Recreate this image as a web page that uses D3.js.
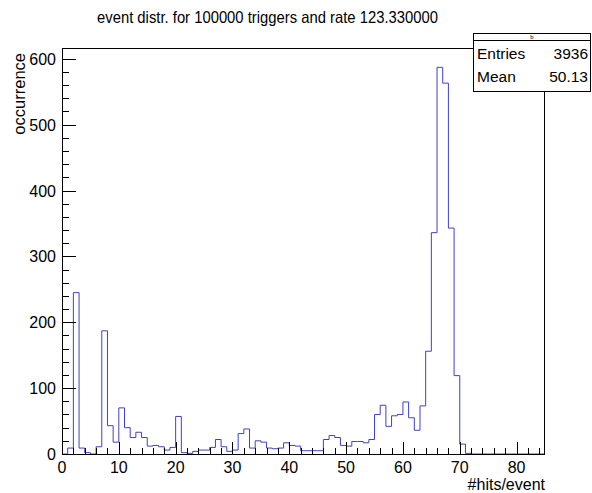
<!DOCTYPE html>
<html><head><meta charset="utf-8">
<script src="https://cdn.jsdelivr.net/npm/d3@7"></script>
<style>body{margin:0;background:#fff}svg{display:block;font-family:"Liberation Sans",Arial,sans-serif}</style>
</head><body>
<svg id="c" width="592" height="493"></svg>
<script>
const binStart = 0, binWidth = 1, nBins = 85;
const counts = [0,9,245,9,2,0,11,187,43,18,
70,40,25,33,25,12,13,11,6,10,
57,2,1,4,6,6,10,22,11,4,
6,31,38,9,20,18,9,8,9,17,
13,12,5,5,5,5,22,28,25,13,
12,19,19,17,22,60,74,42,58,60,
79,55,36,73,156,336,587,563,343,119,
15,1,0,0,0,0,0,0,0,0,
0,0,0,0,0];
const xTickValues = [0,10,20,30,40,50,60,70,80];
const yTickValues = [0,100,200,300,400,500,600];
const titleText = "event distr. for 100000 triggers and rate 123.330000";
const statNames = ["Entries","Mean"];
const statValues = ["3936","50.13"];

const svg = d3.select("#c");
const L = 62, R = 545, T = 48, B = 454;
const x = d3.scaleLinear().domain([binStart, binStart + nBins*binWidth]).range([L, R]);
const yMax = d3.max(counts) * 1.05;
const y = d3.scaleLinear().domain([0, yMax]).range([B, T]);

// histogram
let pts = [[x(binStart), y(0)]];
counts.forEach((v,i)=>{
  const x0 = binStart + i*binWidth;
  pts.push([x(x0), y(v)]);
  pts.push([x(x0+binWidth), y(v)]);
});
pts.push([x(binStart+nBins*binWidth), y(0)]);
svg.append("clipPath").attr("id","clip").append("rect").attr("x",L).attr("y",T).attr("width",R-L).attr("height",B-T);
svg.append("path").attr("d", d3.line()(pts)).attr("fill","none").attr("stroke","#4040c4").attr("stroke-width",1).attr("clip-path","url(#clip)");

// frame
svg.append("rect").attr("x",L+0.5).attr("y",T+0.5).attr("width",R-L-1).attr("height",B-T).attr("fill","none").attr("stroke","#000").attr("stroke-width",1);

// x ticks (inside, upward)
const xMinor = d3.range(0, 85.001, 2);
const gx = svg.append("g");
xMinor.forEach(v=>{
  const major = v % 10 === 0;
  gx.append("line").attr("x1",Math.round(x(v))+0.5).attr("x2",Math.round(x(v))+0.5)
    .attr("y1",B).attr("y2",B-(major?12:6)).attr("stroke","#000").attr("stroke-width",1);
});
xTickValues.forEach(v=>{
  gx.append("text").attr("x",x(v)).attr("y",473).attr("text-anchor","middle").attr("font-size",16).text(v);
});
// y ticks (inside, rightward)
const gy = svg.append("g");
d3.range(0, yMax, 20).forEach(v=>{
  const major = v % 100 === 0;
  gy.append("line").attr("x1",L).attr("x2",L+(major?14:7))
    .attr("y1",Math.round(y(v))+0.5).attr("y2",Math.round(y(v))+0.5).attr("stroke","#000").attr("stroke-width",1);
});
yTickValues.forEach(v=>{
  gy.append("text").attr("x",56).attr("y",y(v)+6).attr("text-anchor","end").attr("font-size",16).text(v);
});

// axis titles
svg.append("text").attr("x",R).attr("y",490).attr("text-anchor","end").attr("font-size",16).text("#hits/event");
svg.append("text").attr("transform",`translate(25,${T+5}) rotate(-90)`).attr("text-anchor","end").attr("font-size",16.5).text("occurrence");

// title
svg.append("text").attr("x",267.5).attr("y",23).attr("text-anchor","middle").attr("font-size",16.5)
  .attr("textLength",341).attr("lengthAdjust","spacingAndGlyphs").text(titleText);

// stats box
const sb = svg.append("g");
sb.append("rect").attr("x",473.5).attr("y",33.5).attr("width",117).attr("height",58).attr("fill","#fff").attr("stroke","#000");
sb.append("line").attr("x1",473.5).attr("x2",590.5).attr("y1",40.5).attr("y2",40.5).attr("stroke","#000");
sb.append("text").attr("x",532).attr("y",39).attr("text-anchor","middle").attr("font-size",6).text("b");
statNames.forEach((n,i)=>{
  sb.append("text").attr("x",477).attr("y",59+i*23).attr("font-size",15.5).text(n);
  sb.append("text").attr("x",588).attr("y",59+i*23).attr("text-anchor","end").attr("font-size",15.5).text(statValues[i]);
});
</script>
</body></html>
